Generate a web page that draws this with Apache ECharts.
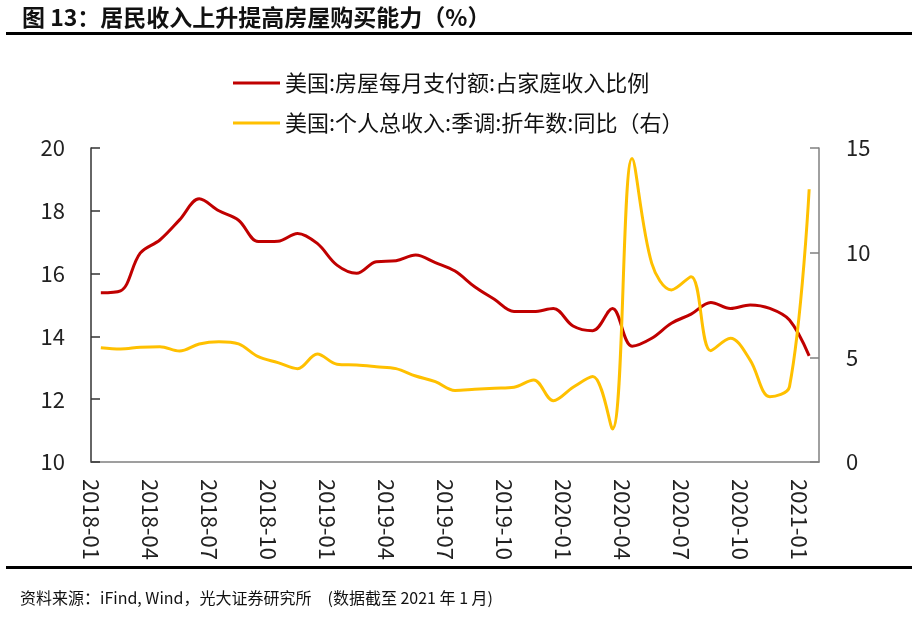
<!DOCTYPE html>
<html>
<head>
<meta charset="utf-8">
<script src="https://cdn.jsdelivr.net/npm/echarts@6/dist/echarts.min.js"></script>
<style>html,body{margin:0;padding:0;background:#fff;}#c{width:918px;height:618px;}</style>
</head>
<body>
<div id="c"></div>
<script>
var months = [];
for (var y = 2018; y <= 2021; y++) {
  for (var m = 1; m <= 12; m++) {
    if (y === 2021 && m > 1) break;
    months.push(y + '-' + (m < 10 ? '0' + m : m));
  }
}
var tickLabels = ['2018-01','2018-04','2018-07','2018-10','2019-01','2019-04','2019-07','2019-10','2020-01','2020-04','2020-07','2020-10','2021-01'];
var seriesNames = ['美国:房屋每月支付额:占家庭收入比例', '美国:个人总收入:季调:折年数:同比（右）'];
var mortgageShare = [15.39,15.45,16.65,17.07,17.71,18.38,18.0,17.7,17.02,17.03,17.28,16.96,16.27,16.01,16.38,16.41,16.59,16.35,16.08,15.58,15.18,14.79,14.79,14.89,14.33,14.18,14.89,13.69,13.94,14.42,14.71,15.08,14.89,15.0,14.89,14.52,13.38];
var incomeYoY = [5.46,5.40,5.48,5.51,5.30,5.64,5.75,5.64,5.03,4.75,4.46,5.16,4.67,4.63,4.55,4.46,4.11,3.84,3.42,3.47,3.52,3.57,3.92,2.93,3.57,4.08,1.58,14.5,9.49,8.22,8.85,5.32,5.91,4.87,3.12,3.6,13.03];
var titleText = '图 13：居民收入上升提高房屋购买能力（%）';
var sourceText = '资料来源：iFind, Wind，光大证券研究所　(数据截至 2021 年 1 月)';

var FONT = '"Noto Sans CJK SC", "Noto Sans", sans-serif';
var chart = echarts.init(document.getElementById('c'), null, {renderer: 'canvas'});
chart.setOption({
  animation: false,
  backgroundColor: '#fff',
  textStyle: {fontFamily: FONT},
  title: {
    text: titleText, left: 17, top: 1,
    textStyle: {fontFamily: FONT, fontSize: 23, fontWeight: 'bold', color: '#111'}
  },
  graphic: [
    {type: 'rect', shape: {x: 6, y: 32, width: 906, height: 3}, style: {fill: '#000'}},
    {type: 'rect', shape: {x: 6, y: 566, width: 906, height: 3}, style: {fill: '#000'}},
    {type: 'text', x: 20, y: 598, style: {text: sourceText, font: '16px ' + FONT, fill: '#111', textVerticalAlign: 'middle'}}
  ],
  legend: {
    orient: 'vertical', left: 228, top: 66,
    icon: 'rect', itemWidth: 47, itemHeight: 3, itemGap: 16,
    textStyle: {fontFamily: FONT, fontSize: 22, color: '#111', lineHeight: 24},
    data: seriesNames
  },
  grid: {left: 91, right: 99, top: 148, bottom: 156, containLabel: false},
  xAxis: [{
    type: 'category', data: months, boundaryGap: true, position: 'bottom',
    axisLine: {lineStyle: {color: '#808080', width: 1.5}},
    axisTick: {interval: 2, length: 9, inside: false, lineStyle: {color: '#808080', width: 1.5}},
    axisLabel: {show: false},
    splitLine: {show: false}
  }, {
    type: 'value', min: 0, max: 37, interval: 3, position: 'bottom',
    axisLine: {show: false}, axisTick: {show: false}, splitLine: {show: false},
    axisLabel: {
      rotate: -90, margin: 17, fontSize: 22, color: '#222', fontFamily: FONT,
      showMaxLabel: false,
      formatter: function (v) { return v % 3 === 0 && tickLabels[v / 3] ? tickLabels[v / 3] : ''; }
    }
  }],
  yAxis: [{
    type: 'value', min: 10, max: 20, interval: 2, position: 'left',
    axisLine: {show: true, lineStyle: {color: '#333', width: 1.5}},
    axisTick: {show: true, inside: true, length: 9, lineStyle: {color: '#333', width: 1.5}},
    axisLabel: {margin: 26, fontSize: 22, color: '#222', fontFamily: FONT},
    splitLine: {show: false}
  }, {
    type: 'value', min: 0, max: 15, interval: 5, position: 'right',
    axisLine: {show: true, lineStyle: {color: '#808080', width: 1.5}},
    axisTick: {show: true, inside: true, length: 9, lineStyle: {color: '#808080', width: 1.5}},
    axisLabel: {margin: 27, fontSize: 22, color: '#222', fontFamily: FONT},
    splitLine: {show: false}
  }],
  series: [{
    name: seriesNames[0], type: 'line', xAxisIndex: 0, yAxisIndex: 0,
    data: mortgageShare, smooth: 0.35, showSymbol: false,
    lineStyle: {color: '#C00000', width: 3}, itemStyle: {color: '#C00000'}
  }, {
    name: seriesNames[1], type: 'line', xAxisIndex: 0, yAxisIndex: 1,
    data: incomeYoY, smooth: 0.35, showSymbol: false,
    lineStyle: {color: '#FFC000', width: 3}, itemStyle: {color: '#FFC000'}
  }]
});
</script>
</body>
</html>
